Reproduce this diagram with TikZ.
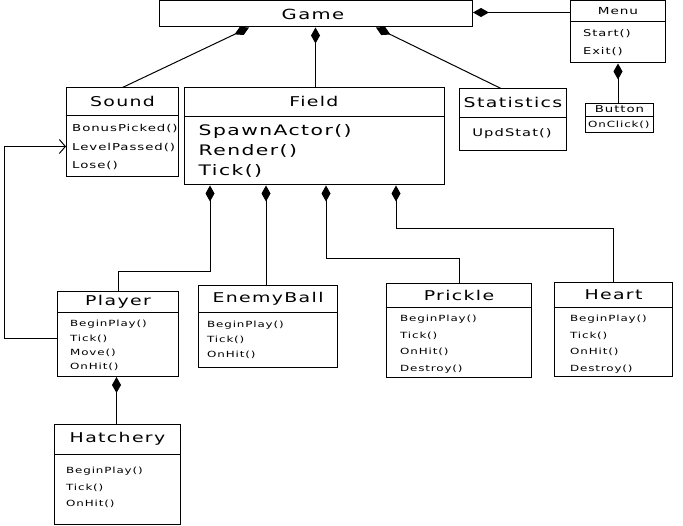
\documentclass[tikz,border=0pt]{standalone}
\usepackage{fontspec}
\newfontfamily\umlfont[FakeStretch=1.4,LetterSpace=10]{DejaVu Sans}
\usetikzlibrary{arrows.meta}

\tikzset{
  cls/.style={draw,line width=1pt,inner sep=0pt,anchor=north west},
  head/.style={inner sep=0pt,font=\umlfont\fontsize{13.5}{16}\selectfont},
  meth/.style={inner sep=0pt,anchor=base west,font=\umlfont\fontsize{8.5}{10}\selectfont},
  comp/.style={line width=1pt,{Diamond[length=16pt,width=9pt]}-},
  uses/.style={line width=1pt,-{Straight Barb[length=6pt,width=14pt,line width=1pt]}},
}

\begin{document}
\begin{tikzpicture}[x=1pt,y=-1pt]
      \useasboundingbox[fill=white] (0,0) rectangle (683,526);

      % top row
      \node[cls,minimum width=313,minimum height=26] (game) at (159,0.5) {};
      \node[head,font=\umlfont\fontsize{14}{16}\selectfont] (game-t) at ([xshift=-3]game.center) {Game};

      \node[cls,minimum width=95,minimum height=62] (menu) at (570,0.5) {};
      \draw ([yshift=-20.5]menu.north west) -- ([yshift=-20.5]menu.north east);
      \node[meth,anchor=center,font=\umlfont\fontsize{9.7}{10}\selectfont] (menu-t) at ([yshift=-10.5]menu.north) {Menu};
      \node[meth,font=\umlfont\fontsize{9.3}{10}\selectfont] (menu-m1) at ([xshift=13,yshift=-36.5]menu.north west) {Start()};
      \node[meth,font=\umlfont\fontsize{9.3}{10}\selectfont] (menu-m2) at ([xshift=13,yshift=-54.5]menu.north west) {Exit()};

      \node[cls,minimum width=68,minimum height=29] (button) at (585,103) {};
      \draw ([yshift=-13]button.north west) -- ([yshift=-13]button.north east);
      \node[meth,anchor=center,font=\umlfont\fontsize{9.5}{10}\selectfont] (button-t) at ([yshift=-6.5]button.north) {Button};
      \node[meth] (button-m1) at ([xshift=3,yshift=-24.5]button.north west) {OnClick()};

      % second row
      \node[cls,minimum width=112,minimum height=89] (sound) at (66,87.5) {};
      \draw ([yshift=-28]sound.north west) -- ([yshift=-28]sound.north east);
      \node[head] (sound-t) at ([yshift=-14]sound.north) {Sound};
      \foreach \m [count=\i] in {BonusPicked(),LevelPassed(),Lose()}
        \node[meth,font=\umlfont\fontsize{9.5}{10}\selectfont] (sound-m\i) at ([xshift=6,yshift={-44.5-18.3*(\i-1)}]sound.north west) {\m};

      \node[cls,minimum width=260,minimum height=97] (field) at (183.5,87.5) {};
      \draw ([yshift=-28.5]field.north west) -- ([yshift=-28.5]field.north east);
      \node[head] (field-t) at ([yshift=-14]field.north) {Field};
      \foreach \m [count=\i] in {SpawnActor(),Render(),Tick()}
        \node[meth,font=\umlfont\fontsize{14.5}{16}\selectfont] (field-m\i) at ([xshift=15,yshift={-48-20*(\i-1)}]field.north west) {\m};

      \node[cls,minimum width=107,minimum height=62] (stats) at (459,88.5) {};
      \draw ([yshift=-28.5]stats.north west) -- ([yshift=-28.5]stats.north east);
      \node[head] (stats-t) at ([yshift=-14]stats.north) {Statistics};
      \node[meth,anchor=center,font=\umlfont\fontsize{10.5}{12}\selectfont] (stats-m1) at ([xshift=-1,yshift=-45]stats.north) {UpdStat()};

      % bottom row
      \node[cls,minimum width=121,minimum height=85] (player) at (57,291) {};
      \draw ([yshift=-21]player.north west) -- ([yshift=-21]player.north east);
      \node[head] (player-t) at ([yshift=-10.5]player.north) {Player};
      \foreach \m [count=\i] in {BeginPlay(),Tick(),Move(),OnHit()}
        \node[meth] (player-m\i) at ([xshift=13,yshift={-36-14.3*(\i-1)}]player.north west) {\m};

      \node[cls,minimum width=139,minimum height=82] (enemy) at (198,285) {};
      \draw ([yshift=-27]enemy.north west) -- ([yshift=-27]enemy.north east);
      \node[head] (enemy-t) at ([yshift=-13.5]enemy.north) {EnemyBall};
      \foreach \m [count=\i] in {BeginPlay(),Tick(),OnHit()}
        \node[meth] (enemy-m\i) at ([xshift=9,yshift={-43-15*(\i-1)}]enemy.north west) {\m};

      \node[cls,minimum width=145,minimum height=94] (prickle) at (386,283) {};
      \draw ([yshift=-24]prickle.north west) -- ([yshift=-24]prickle.north east);
      \node[head] (prickle-t) at ([yshift=-12]prickle.north) {Prickle};
      \foreach \m [count=\i] in {BeginPlay(),Tick(),OnHit(),Destroy()}
        \node[meth] (prickle-m\i) at ([xshift=14,yshift={-39-16.5*(\i-1)}]prickle.north west) {\m};

      \node[cls,minimum width=118,minimum height=94] (heart) at (554,282) {};
      \draw ([yshift=-25]heart.north west) -- ([yshift=-25]heart.north east);
      \node[head] (heart-t) at ([yshift=-12.5]heart.north) {Heart};
      \foreach \m [count=\i] in {BeginPlay(),Tick(),OnHit(),Destroy()}
        \node[meth] (heart-m\i) at ([xshift=16,yshift={-40-16.5*(\i-1)}]heart.north west) {\m};

      \node[cls,minimum width=126,minimum height=100] (hatch) at (54,424) {};
      \draw ([yshift=-30]hatch.north west) -- ([yshift=-30]hatch.north east);
      \node[head] (hatch-t) at ([yshift=-15]hatch.north) {Hatchery};
      \foreach \m [count=\i] in {BeginPlay(),Tick(),OnHit()}
        \node[meth] (hatch-m\i) at ([xshift=12,yshift={-50-16.5*(\i-1)}]hatch.north west) {\m};

      % connectors
      \draw[comp] ([xshift=-67]game.south) -- (sound.north);
      \draw[comp] ([xshift=-0.5]game.south) -- ([xshift=-0.5]game.south |- field.north);
      \draw[comp] ([xshift=60]game.south) -- ([xshift=-12]stats.north);
      \draw[comp] ([yshift=1.5]game.east) -- ([yshift=1.5]game.east -| menu.west);
      \draw[comp] (menu.south) -- (menu.south |- button.north);

      \draw[comp] ([xshift=-104]field.south) -- ++(0,86) -| (player.north);
      \draw[comp] ([xshift=-48]field.south) -- ([xshift=-48]field.south |- enemy.north);
      \draw[comp] ([xshift=12]field.south) -- ++(0,73) -| (prickle.north);
      \draw[comp] ([xshift=82]field.south) -- ++(0,43) -| (heart.north);
      \draw[comp] ([xshift=-1.5]player.south) -- ([xshift=-1.5]player.south |- hatch.north);

      \draw[uses] ([yshift=-4.5]player.west) -- ++(-53,0) |- ([yshift=-14]sound.west);
\end{tikzpicture}
\end{document}
